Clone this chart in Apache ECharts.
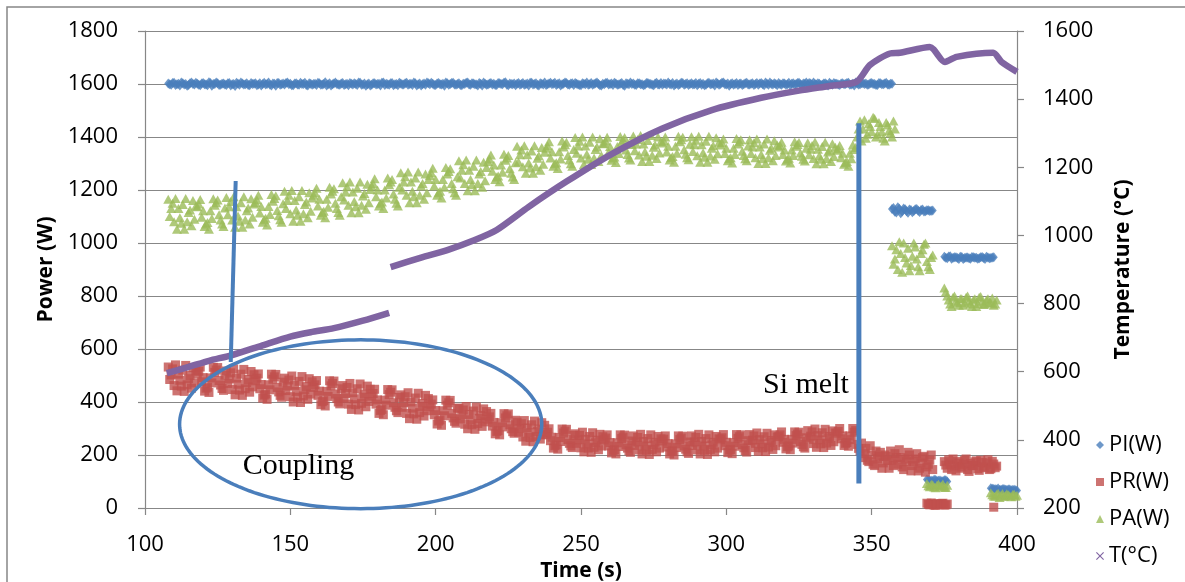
<!DOCTYPE html>
<html><head><meta charset="utf-8">
<script src="https://cdn.jsdelivr.net/npm/echarts@6/dist/echarts.min.js"></script>
<style>html,body{margin:0;padding:0;background:#fff}#c{width:1185px;height:582px}</style>
</head><body><div id="c"></div>
<script>
// ---------- Data (samples every 0.5 s: whole-second arrays + half-second arrays) ----------
const X_TICKS = [100, 150, 200, 250, 300, 350, 400];
const POWER_TICKS = [0, 200, 400, 600, 800, 1000, 1200, 1400, 1600, 1800];
const TEMP_TICKS = [200, 400, 600, 800, 1000, 1200, 1400, 1600];

// PI(W)
const PI_STARTS = [108, 357, 369, 375, 391];
const PI_VALUES = [
 [1602,1597,1605,1599,1594,1603,1600,1596,1606,1598,
  1601,1595,1604,1598,1607,1593,1600,1603,1597,1602,
  1596,1604,1599,1592,1601,1606,1598,1603,1595,1600,
  1603,1598,1594,1605,1600,1597,1602,1593,1604,1599,
  1598,1606,1601,1595,1603,1597,1600,1605,1594,1601,
  1600,1596,1603,1598,1607,1599,1594,1602,1600,1597,
  1604,1599,1595,1601,1603,1596,1605,1598,1593,1602,
  1597,1603,1600,1594,1606,1601,1597,1604,1599,1595,
  1602,1598,1605,1600,1596,1603,1599,1594,1602,1606,
  1599,1601,1596,1604,1598,1593,1603,1600,1605,1597,
  1603,1595,1600,1606,1597,1602,1598,1604,1594,1601,
  1598,1604,1601,1596,1603,1599,1607,1595,1600,1602,
  1601,1597,1604,1599,1594,1605,1600,1596,1603,1598,
  1596,1602,1599,1605,1600,1594,1601,1604,1597,1603,
  1604,1598,1595,1601,1606,1599,1597,1603,1600,1594,
  1599,1605,1600,1596,1602,1598,1604,1593,1601,1606,
  1602,1596,1603,1599,1597,1604,1600,1595,1605,1598,
  1597,1601,1606,1598,1594,1602,1599,1604,1600,1596,
  1603,1599,1595,1604,1601,1597,1605,1600,1594,1602,
  1600,1606,1598,1593,1603,1600,1596,1602,1599,1605,
  1598,1603,1600,1597,1604,1595,1601,1606,1598,1600,
  1604,1597,1602,1599,1595,1603,1600,1605,1596,1601,
  1599,1602,1606,1598,1601,1597,1603,1594,1600,1604,
  1601,1596,1603,1600,1605,1598,1594,1602,1599,1603,
  1602,1598,1604,1600,1596,1603,1599,1605,1597,1601],
 [1128,1118,1135,1112,1130,1120,1126,1116,1127,1122,1125,1119,1124,1121,1123],
 [108,104,102,106,103,101,105,100],
 [948,942,950,944,946,940,947,943,945,941,946,944,942,947,940,945,943,946],
 [75,72,70,68,71,69,70,67,69,66]
];
const PI_HALF_STARTS = [108.5, 357.5, 369.5, 375.5, 391.5];
const PI_HALF_VALUES = [
 [1599,1604,1596,1601,1606,1598,1593,1603,1600,1605,
  1597,1602,1599,1595,1604,1600,1606,1596,1601,1598,
  1603,1594,1600,1605,1597,1602,1599,1596,1604,1601,
  1595,1603,1600,1598,1606,1594,1601,1604,1597,1602,
  1604,1599,1595,1602,1598,1605,1600,1596,1603,1597,
  1601,1605,1597,1600,1594,1603,1599,1606,1598,1602,
  1596,1601,1604,1598,1600,1606,1597,1602,1599,1594,
  1603,1598,1601,1605,1596,1599,1603,1595,1600,1605,
  1598,1603,1597,1601,1606,1594,1602,1599,1597,1603,
  1605,1596,1602,1599,1601,1606,1597,1604,1598,1600,
  1596,1601,1605,1598,1603,1599,1594,1601,1606,1597,
  1602,1598,1596,1604,1600,1605,1597,1602,1599,1595,
  1604,1600,1597,1602,1605,1598,1603,1594,1601,1606,
  1599,1605,1601,1596,1603,1599,1606,1598,1602,1596,
  1601,1596,1603,1599,1597,1604,1600,1606,1595,1601,
  1604,1598,1602,1605,1597,1601,1596,1603,1599,1600,
  1597,1603,1599,1595,1604,1600,1597,1602,1598,1604,
  1602,1598,1600,1604,1599,1596,1605,1597,1603,1600,
  1598,1604,1601,1597,1595,1603,1599,1602,1606,1597,
  1605,1599,1602,1600,1597,1604,1601,1596,1603,1598,
  1601,1596,1604,1602,1599,1606,1597,1600,1603,1595,
  1599,1603,1597,1605,1601,1598,1604,1599,1602,1606,
  1604,1598,1600,1603,1596,1602,1599,1605,1597,1601,
  1598,1602,1599,1604,1597,1601,1606,1598,1603,1600,
  1597,1603,1600,1596,1604,1599,1602,1598,1601],
 [1132,1115,1129,1119,1127,1114,1125,1121,1128,1117,1126,1120,1124,1122],
 [106,103,107,102,104,101,105],
 [944,949,941,946,943,948,940,945,942,947,944,941,946,943,948,942,945],
 [73,71,74,69,72,68,70,68,67]
];

// PR(W)
const PR_STARTS = [108, 345, 369, 375, 392];
const PR_VALUES = [
 [532,502,462,442,482,520,538,488,452,472,
  506,532,492,452,436,472,512,530,464,444,
  517,487,447,427,467,505,523,473,437,457,
  480,506,466,426,410,446,486,504,438,418,
  490,460,420,400,440,478,496,446,410,430,
  455,481,441,401,385,421,461,479,413,393,
  462,432,392,372,412,450,468,418,382,402,
  422,448,408,368,352,388,428,446,380,360,
  427,397,357,337,377,415,433,383,347,367,
  382,408,368,328,312,348,388,406,340,320,
  376,350,316,299,333,366,381,338,308,325,
  335,357,323,289,276,306,340,355,299,282,
  324,300,268,252,284,314,328,288,260,276,
  278,299,267,235,222,251,283,297,244,228,
  280,257,227,212,242,270,284,246,220,234,
  257,276,247,217,204,232,262,275,226,210,
  272,249,219,204,234,262,276,238,212,226,
  253,272,243,213,200,228,258,271,222,206,
  272,249,219,204,234,262,276,238,212,226,
  258,277,248,218,205,233,263,276,227,211,
  277,256,228,214,242,269,282,247,221,235,
  269,287,259,231,220,245,273,286,240,226,
  292,271,243,229,257,284,297,262,236,250,
  282,300,272,244,233,258,286],
 [240,215,190,225,175,200,160,185,210,170,195,150,180,205,165,190,145,175,200,160,185,140,170,195,155,180,145],
 [18,12,16,10,14,17,11,15],
 [175,150,165,185,140,170,155,180,145,168,160,178,142,172,152,182,148,166,158],
 [3]
];
const PR_HALF_STARTS = [108.5, 345.5, 369.5, 375.5];
const PR_HALF_VALUES = [
 [485,525,540,505,460,440,465,500,530,518,
  516,476,441,456,491,531,521,481,451,501,
  470,510,525,490,445,425,450,485,515,503,
  490,450,415,430,465,505,495,455,425,475,
  443,483,498,463,418,398,423,458,488,476,
  465,425,390,405,440,480,470,430,400,450,
  415,455,470,435,390,370,395,430,460,448,
  432,392,357,372,407,447,437,397,367,417,
  380,420,435,400,355,335,360,395,425,413,
  392,352,317,332,367,407,397,357,327,377,
  336,370,383,353,314,297,319,349,374,364,
  344,309,280,292,322,356,348,314,288,331,
  286,318,330,302,266,250,270,298,322,312,
  286,254,226,238,266,298,290,258,234,274,
  244,274,286,259,226,210,229,256,278,269,
  264,234,208,220,246,276,268,238,216,253,
  236,266,278,251,218,202,221,248,270,261,
  260,230,204,216,242,272,264,234,212,249,
  236,266,278,251,218,202,221,248,270,261,
  265,235,209,221,247,277,269,239,217,254,
  244,272,283,258,227,213,230,255,276,268,
  276,248,223,234,259,287,279,251,231,265,
  259,287,298,273,242,228,245,270,291,283,
  289,261,236,247,272,300,292],
 [225,245,205,180,235,165,215,195,150,200,180,215,160,190,220,155,185,210,140,175,205,150,190,135,165,200],
 [14,19,11,16,13,18,12],
 [162,182,145,158,176,150,165,185,138,160,174,148,180,155,170,145,176,152]
];

// PA(W)
const PA_STARTS = [108, 345, 357, 369, 375, 391];
const PA_VALUES = [
 [1165,1130,1080,1052,1095,1145,1168,1115,1065,1090,
  1137,1164,1122,1072,1052,1092,1142,1162,1087,1062,
  1172,1137,1087,1059,1102,1152,1175,1122,1072,1097,
  1153,1180,1138,1088,1068,1108,1158,1178,1103,1078,
  1195,1160,1110,1082,1125,1175,1198,1145,1095,1120,
  1180,1207,1165,1115,1095,1135,1185,1205,1130,1105,
  1227,1192,1142,1114,1157,1207,1230,1177,1127,1152,
  1215,1242,1200,1150,1130,1170,1220,1240,1165,1140,
  1265,1230,1180,1152,1195,1245,1268,1215,1165,1190,
  1255,1282,1240,1190,1170,1210,1260,1280,1205,1180,
  1310,1275,1225,1197,1240,1290,1313,1260,1210,1235,
  1308,1332,1294,1249,1231,1267,1312,1330,1263,1240,
  1365,1333,1288,1263,1302,1347,1367,1320,1275,1297,
  1358,1382,1344,1299,1281,1317,1362,1380,1313,1290,
  1398,1366,1321,1296,1335,1380,1400,1353,1308,1330,
  1376,1399,1364,1321,1304,1338,1381,1398,1334,1313,
  1404,1374,1332,1308,1344,1387,1406,1361,1319,1340,
  1377,1400,1365,1322,1305,1339,1382,1399,1335,1314,
  1401,1371,1329,1305,1341,1384,1403,1358,1316,1337,
  1370,1392,1358,1318,1302,1334,1374,1390,1330,1310,
  1390,1362,1322,1300,1334,1374,1392,1350,1310,1330,
  1362,1380,1351,1316,1302,1330,1365,1379,1327,1309,
  1378,1354,1319,1299,1329,1364,1380,1343,1308,1326,
  1350,1368,1339,1304,1290,1318,1353],
 [1400,1460,1430,1395,1450,1420,1470,1410,1440,1395,1455,1425,1400,1430],
 [990,940,900,960,1000,925,895,950,985,910,960,995,930,900,955],
 [92,80,88,76,90,84,78,86],
 [830,800,770,795,780,765,790,775,800,770,785,760,795,780,770,790,775,765,785],
 [58,45,52,40,55,47,50,42,53,48]
];
const PA_HALF_STARTS = [108.5, 345.5, 357.5, 369.5, 375.5, 391.5];
const PA_HALF_VALUES = [
 [1100,1150,1168,1130,1075,1052,1080,1125,1160,1140,
  1147,1097,1062,1077,1122,1167,1152,1107,1072,1132,
  1107,1157,1175,1137,1082,1059,1087,1132,1167,1147,
  1163,1113,1078,1093,1138,1183,1168,1123,1088,1148,
  1130,1180,1198,1160,1105,1082,1110,1155,1190,1170,
  1190,1140,1105,1120,1165,1210,1195,1150,1115,1175,
  1162,1212,1230,1192,1137,1114,1142,1187,1222,1202,
  1225,1175,1140,1155,1200,1245,1230,1185,1150,1210,
  1200,1250,1268,1230,1175,1152,1180,1225,1260,1240,
  1265,1215,1180,1195,1240,1285,1270,1225,1190,1250,
  1245,1295,1313,1275,1220,1197,1225,1270,1305,1285,
  1317,1271,1240,1253,1294,1335,1321,1280,1249,1303,
  1306,1351,1367,1333,1283,1263,1288,1329,1360,1342,
  1367,1321,1290,1303,1344,1385,1371,1330,1299,1353,
  1339,1384,1400,1366,1316,1296,1321,1362,1393,1375,
  1385,1342,1312,1325,1364,1402,1389,1351,1321,1372,
  1348,1391,1406,1374,1327,1308,1331,1370,1400,1383,
  1386,1343,1313,1326,1365,1403,1390,1352,1322,1373,
  1345,1388,1403,1371,1324,1305,1328,1367,1397,1380,
  1378,1338,1310,1322,1358,1394,1382,1346,1318,1366,
  1338,1378,1392,1362,1318,1300,1322,1358,1386,1370,
  1368,1334,1309,1320,1351,1382,1372,1340,1316,1358,
  1333,1368,1381,1354,1316,1299,1319,1350,1375,1361,
  1356,1322,1297,1308,1339,1370,1360],
 [1430,1385,1465,1410,1440,1475,1400,1455,1420,1385,1445,1415,1460],
 [920,975,1005,890,945,980,915,1000,940,895,975,1000,910,945],
 [84,90,79,87,82,91,77],
 [815,785,760,800,775,790,765,795,780,760,790,772,798,768,785,775,792,770],
 [50,44,56,48,43,54,46,51,44]
];

// T(°C) on the right axis; null = gap in the recording
const T_TIME  = [107.5,115,122,130,140,150,157,165,175,184, null, 184.5,195,204,213,221,232,245,261,278,295,312,325,335,344.8,349.4,356.3,359.7,370,375.2,379.2,391.8,394.7,400];
const T_VALUE = [596,614,632,649,676,703,716,728,750,773, null, 907,935,957,985,1016,1084,1158,1241,1314,1368,1404,1425,1438,1451,1500,1534,1536,1553,1509,1524,1536,1509,1480];

// Annotations (data units)
const MARK_COUPLING = [[129.5, 551], [131.2, 1234]];
const MARK_MELT = [[345.6, 92], [345.6, 1452]];
const ELLIPSE = { cx: 174.2, cy: 316, rx: 62.3, ry: 318.5 };
const TEXT_COUPLING = { text: 'Coupling', x: 133.6, y: 159 };
const TEXT_MELT = { text: 'Si melt', x: 312.6, y: 465 };

// ---------- Build ----------
function toPoints(groups) {
  const out = [];
  groups.forEach(([starts, values]) =>
    starts.forEach((s, k) => values[k].forEach((v, i) => out.push([s + i, v]))));
  out.sort((a, b) => a[0] - b[0]);
  return out;
}
const tPts = T_TIME.map((t, i) => (t === null ? '-' : [t, T_VALUE[i]]));

const SANS = '"Open Sans", "Liberation Sans", sans-serif';
const SERIF = '"Liberation Serif", "DejaVu Serif", serif';
const GRAY = '#878787';
const BLUE = '#4a7ebb', RED = '#c0504d', GREEN = '#9bbb59', PURPLE = '#8064a2';
const plain = v => String(v);

const chart = echarts.init(document.getElementById('c'), null, { renderer: 'canvas' });
const option = {
  backgroundColor: '#fff',
  animation: false,
  textStyle: { fontFamily: SANS },
  grid: { left: 145, right: 168, top: 31, bottom: 74, containLabel: false, outerBoundsMode: 'none' },
  legend: {
    orient: 'vertical', left: 1091, top: 427,
    itemWidth: 8, itemHeight: 8, itemGap: 11,
    textStyle: { fontSize: 22, color: '#000', fontFamily: SANS, lineHeight: 26 },
    data: [
      { name: 'PI(W)', icon: 'diamond' },
      { name: 'PR(W)', icon: 'rect' },
      { name: 'PA(W)', icon: 'triangle' },
      { name: 'T(°C)', icon: 'path://M1,0L5,4L9,0L10,1L6,5L10,9L9,10L5,6L1,10L0,9L4,5L0,1Z' }
    ]
  },
  xAxis: {
    type: 'value', min: X_TICKS[0], max: X_TICKS[X_TICKS.length - 1], interval: 50,
    name: 'Time (s)', nameLocation: 'middle', nameGap: 51,
    nameTextStyle: { fontSize: 21, fontWeight: 'bold', color: '#000', fontFamily: SANS },
    axisLine: { onZero: false, lineStyle: { color: GRAY, width: 1.2 } },
    axisTick: { show: true, length: 7, lineStyle: { color: GRAY, width: 1.2 } },
    axisLabel: { fontSize: 22, color: '#000', margin: 26, fontFamily: SANS, formatter: plain },
    splitLine: { show: false }
  },
  yAxis: [
    {
      type: 'value', min: POWER_TICKS[0], max: POWER_TICKS[POWER_TICKS.length - 1], interval: 200,
      name: 'Power (W)', nameLocation: 'middle', nameGap: 88, nameRotate: 90,
      nameTextStyle: { fontSize: 21, fontWeight: 'bold', color: '#000', fontFamily: SANS },
      axisLine: { show: true, lineStyle: { color: GRAY, width: 1.2 } },
      axisTick: { show: true, length: 7, lineStyle: { color: GRAY, width: 1.2 } },
      axisLabel: { fontSize: 22, color: '#000', margin: 27, fontFamily: SANS, formatter: plain },
      splitLine: { show: true, lineStyle: { color: GRAY, width: 1.2 } }
    },
    {
      type: 'value', min: TEMP_TICKS[0], max: TEMP_TICKS[TEMP_TICKS.length - 1], interval: 200,
      position: 'right',
      name: 'Temperature (°C)', nameLocation: 'middle', nameGap: 96, nameRotate: 90,
      nameTextStyle: { fontSize: 21, fontWeight: 'bold', color: '#000', fontFamily: SANS },
      axisLine: { show: true, lineStyle: { color: GRAY, width: 1.2 } },
      axisTick: { show: true, length: 7, lineStyle: { color: GRAY, width: 1.2 } },
      axisLabel: { fontSize: 22, color: '#000', margin: 26, fontFamily: SANS, formatter: plain },
      splitLine: { show: false }
    }
  ],
  series: [
    { name: 'PI(W)', type: 'scatter', symbol: 'diamond', symbolSize: [8, 10],
      itemStyle: { color: BLUE }, silent: true,
      data: toPoints([[PI_STARTS, PI_VALUES], [PI_HALF_STARTS, PI_HALF_VALUES]]) },
    { name: 'PR(W)', type: 'scatter', symbol: 'rect', symbolSize: 9,
      itemStyle: { color: RED }, silent: true,
      data: toPoints([[PR_STARTS, PR_VALUES], [PR_HALF_STARTS, PR_HALF_VALUES]]) },
    { name: 'PA(W)', type: 'scatter', symbol: 'triangle', symbolSize: [10, 9],
      itemStyle: { color: GREEN }, silent: true,
      data: toPoints([[PA_STARTS, PA_VALUES], [PA_HALF_STARTS, PA_HALF_VALUES]]) },
    { name: 'T(°C)', type: 'line', yAxisIndex: 1, showSymbol: false, symbol: 'none',
      smooth: 0.25, connectNulls: false,
      itemStyle: { color: PURPLE }, lineStyle: { color: PURPLE, width: 6.5 },
      data: tPts, silent: true },
    { name: 'markCoupling', type: 'line', symbol: 'none', z: 10, silent: true,
      lineStyle: { color: BLUE, width: 4 }, data: MARK_COUPLING },
    { name: 'markMelt', type: 'line', symbol: 'none', z: 10, silent: true,
      lineStyle: { color: BLUE, width: 5 }, data: MARK_MELT }
  ]
};
chart.setOption(option);

// Ellipse + text annotations, positioned through the axes
const toPx = p => chart.convertToPixel({ gridIndex: 0 }, p);
const c = toPx([ELLIPSE.cx, ELLIPSE.cy]);
const ex = toPx([ELLIPSE.cx + ELLIPSE.rx, ELLIPSE.cy]);
const ey = toPx([ELLIPSE.cx, ELLIPSE.cy + ELLIPSE.ry]);
const rxPx = Math.abs(ex[0] - c[0]), ryPx = Math.abs(c[1] - ey[1]);
const ellPts = [];
for (let i = 0; i < 180; i++) {
  const a = i / 180 * Math.PI * 2;
  ellPts.push([c[0] + rxPx * Math.cos(a), c[1] + ryPx * Math.sin(a)]);
}
const tc = toPx([TEXT_COUPLING.x, TEXT_COUPLING.y]);
const tm = toPx([TEXT_MELT.x, TEXT_MELT.y]);
chart.setOption({
  graphic: [
    { type: 'rect', z: 0, silent: true, shape: { x: 7, y: 7, width: 1200, height: 600 },
      style: { fill: 'none', stroke: GRAY, lineWidth: 1.5 } },
    { type: 'polygon', z: 100, silent: true, shape: { points: ellPts },
      style: { fill: 'none', stroke: BLUE, lineWidth: 3.5 } },
    { type: 'text', z: 100, silent: true, x: tc[0], y: tc[1],
      style: { text: TEXT_COUPLING.text, font: '30px ' + SERIF, fill: '#000', align: 'left', verticalAlign: 'middle' } },
    { type: 'text', z: 100, silent: true, x: tm[0], y: tm[1],
      style: { text: TEXT_MELT.text, font: '30px ' + SERIF, fill: '#000', align: 'left', verticalAlign: 'middle' } }
  ]
});
</script></body></html>
